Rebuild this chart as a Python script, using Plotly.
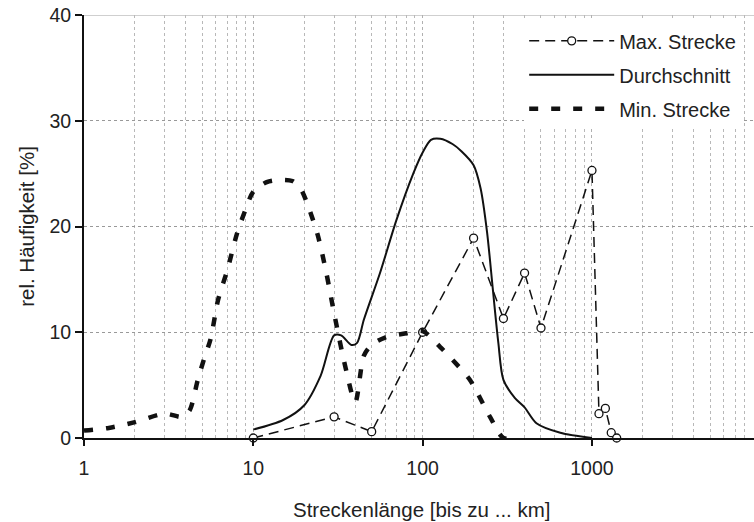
import plotly.graph_objects as go

# Relative frequency of trip lengths (km, upper bound of class) in percent
max_x = [10, 30, 50, 100, 200, 300, 400, 500, 1000, 1100, 1200, 1300, 1400]
max_y = [0.0, 2.0, 0.6, 10.0, 18.9, 11.3, 15.6, 10.4, 25.3, 2.3, 2.8, 0.5, 0.0]

avg_x = [10, 15, 20, 25, 30, 33, 38, 41, 45, 56, 70, 88, 100, 112, 127, 150, 170,
         200, 220, 240, 260, 280, 300, 350, 400, 470, 650, 1000]
avg_y = [0.8, 1.7, 3.1, 5.9, 9.7, 9.7, 8.8, 9.0, 11.2, 15.6, 20.6, 25.0, 27.0, 28.2,
         28.3, 27.8, 27.1, 25.8, 23.6, 19.5, 14.0, 9.0, 5.5, 3.8, 2.9, 1.4, 0.5, 0.0]

min_x = [1, 1.4, 2, 3, 3.8, 4.2, 4.7, 5.1, 5.6, 6.2, 7, 8, 9, 10, 12, 14, 17, 19,
         21, 24, 27, 30, 35, 40, 45, 50, 60, 80, 100, 127, 150, 190, 250, 300, 360]
min_y = [0.7, 0.95, 1.5, 2.3, 2.0, 2.6, 5.5, 7.4, 9.4, 13.1, 15.8, 19.3, 21.6, 23.3,
         24.2, 24.4, 24.3, 23.6, 22.0, 19.2, 15.6, 11.8, 6.7, 3.4, 7.8, 8.8, 9.5, 9.9,
         10.1, 8.6, 7.4, 5.5, 2.0, 0.0, 0.0]

x_ticks = [1, 10, 100, 1000]
y_ticks = [0, 10, 20, 30, 40]

FONT = "Liberation Sans, Arial, sans-serif"
INK = "#111111"
TEXT = "#222222"

fig = go.Figure()

fig.add_trace(go.Scatter(
    x=max_x, y=max_y, name="Max. Strecke", mode="lines+markers",
    line=dict(color=INK, width=1.5, dash="10px,6px"),
    marker=dict(symbol="circle", size=8, color="white",
                line=dict(color=INK, width=1.3)),
    cliponaxis=False, legendgroup="a",
))
fig.add_trace(go.Scatter(
    x=avg_x, y=avg_y, name="Durchschnitt", mode="lines",
    line=dict(color=INK, width=2, shape="spline", smoothing=0.8),
    cliponaxis=False, legendgroup="b",
))
fig.add_trace(go.Scatter(
    x=min_x, y=min_y, name="Min. Strecke", mode="lines",
    line=dict(color=INK, width=4.5, dash="9px,13px", shape="spline", smoothing=0.8),
    cliponaxis=False, legendgroup="c",
))

fig.update_layout(
    width=754, height=522,
    margin=dict(l=84, r=0, t=15, b=84),
    paper_bgcolor="white", plot_bgcolor="white",
    font=dict(family=FONT, size=19, color=TEXT),
    showlegend=True,
    legend=dict(
        x=0.657, y=0.985, xanchor="left", yanchor="top",
        bgcolor="white", borderwidth=0,
        font=dict(family=FONT, size=20, color=TEXT),
        itemwidth=85, traceorder="grouped", tracegroupgap=5,
    ),
    xaxis=dict(
        type="log", range=[0, 3.957],
        tickvals=x_ticks, ticktext=[str(v) for v in x_ticks],
        showline=True, linecolor=INK, linewidth=2,
        ticks="outside", ticklen=6, tickwidth=1.5, tickcolor=INK,
        ticklabelstandoff=6,
        showgrid=True, gridcolor="#b0b0b0", gridwidth=1, griddash="dot",
        minor=dict(dtick="D1", showgrid=True, gridcolor="#b8b8b8",
                   gridwidth=1, griddash="dot", ticks=""),
        zeroline=False,
        tickfont=dict(size=19.5),
    ),
    yaxis=dict(
        range=[0, 40], tickvals=y_ticks,
        showline=True, linecolor=INK, linewidth=2,
        ticks="outside", ticklen=7, tickwidth=1.5, tickcolor=INK,
        showgrid=True, gridcolor="#999999", gridwidth=1, griddash="dot",
        zeroline=False,
        title=dict(text="rel. Häufigkeit [%]", font=dict(size=20.5), standoff=9),
        tickfont=dict(size=19.5),
    ),
    shapes=[dict(type="line", xref="paper", yref="y", x0=0, x1=1, y0=40, y1=40,
                 line=dict(color="#a0a0a0", width=1), layer="below")],
    annotations=[dict(text="Streckenlänge [bis zu ... km]", xref="paper", yref="paper",
                      x=0.5052, y=0, yshift=-71, xanchor="center", yanchor="middle",
                      showarrow=False, font=dict(size=20.5, color=TEXT))],
)

fig.write_html("out.html")
